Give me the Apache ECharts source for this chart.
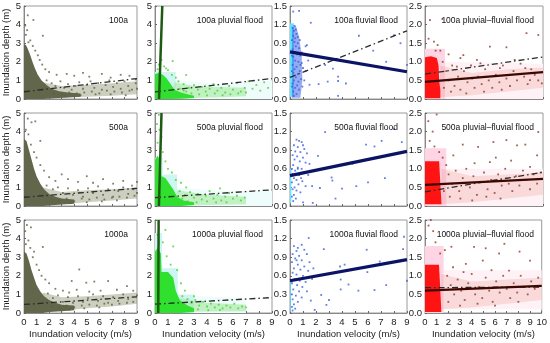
<!DOCTYPE html>
<html><head><meta charset="utf-8">
<script src="https://cdn.jsdelivr.net/npm/echarts@6/dist/echarts.min.js"></script>
<style>html,body{margin:0;padding:0;background:#fff}#c{width:550px;height:343px}</style>
</head><body><div id="c"></div>
<script>
// ---------- titles / ticks ----------
const rowLabels = ['100a', '500a', '1000a'];
const colSuffix = ['', ' pluvial flood', ' fluvial flood', ' pluvial\u2013fluvial flood'];
const xTicksA = [0,1,2,3,4,5,6,7,8,9];
const xTicksB = [0,1,2,3,4,5,6,7,8,9,10];
const yTicksDepth = [0,1,2,3,4,5];
const yTicksFluvial = [0,0.3,0.6,0.9,1.2,1.5];
const yTicksCombined = [0,0.5,1.0,1.5,2.0,2.5];

// ---------- row 1 ----------
const dense11 = [[0,0],[0,2.95],[0.15,2.9],[0.3,2.7],[0.5,2.35],[0.7,1.95],[0.9,1.6],[1.1,1.3],[1.4,1.0],[1.8,0.75],[2.2,0.55],[2.8,0.42],[3.5,0.35],[4.5,0.3],[4.5,0.12],[3.5,0.08],[2.5,0.04],[1.5,0]];
const band11 = [[1.2,0.05],[3,0.08],[5,0.12],[7,0.18],[9,0.25],[9,0.95],[7,0.85],[5,0.75],[3,0.7],[1.5,0.9]];
const pts11 = [[0.3,4.5],[0.75,4.25],[0.1,3.95],[0.25,3.7],[0.15,3.45],[1.5,3.4],[0.5,3.15],[0.35,3.05],[0.7,2.85],[0.9,2.6],[1.1,2.35],[1.25,2.1],[1.45,1.85],[1.7,1.6],[2.0,1.45],[2.6,1.3],[3.4,1.35],[4.0,1.25],[4.7,1.4],[5.2,1.2],[6.2,1.35],[6.9,1.15],[7.7,1.3],[8.4,1.25],[8.9,1.05],[1.8,1.0],[2.2,0.85],[2.5,0.7],[2.9,0.95],[3.2,0.6],[3.5,0.8],[3.8,0.5],[4.1,0.7],[4.4,0.9],[4.7,0.55],[5.0,0.75],[5.3,0.95],[5.6,0.6],[5.9,0.85],[6.2,0.5],[6.5,0.75],[6.8,1.0],[7.1,0.65],[7.4,0.85],[7.7,0.55],[8.0,0.95],[8.3,0.7],[8.6,0.5],[8.9,0.85],[2.4,0.3],[3.0,0.25],[3.6,0.35],[4.2,0.3],[4.8,0.35],[5.4,0.4],[6.0,0.3],[6.6,0.45],[7.2,0.4],[7.8,0.35],[8.4,0.45],[9.0,0.55],[3.3,0.15],[4.5,0.2],[5.7,0.25],[6.9,0.25],[8.1,0.2]];
const dash11 = [[0,0.39],[9,1.1]];

const halo12 = [[0,0],[0,1.45],[1.6,1.45],[1.6,0]];
const faint12 = [[1.6,0],[1.6,1.0],[5,0.8],[9,1.0],[9,0]];
const band12 = [[1.2,0.02],[3,0.05],[5,0.1],[7,0.15],[7,0.6],[5,0.65],[3,0.7],[1.5,0.9]];
const dense12 = [[0,0],[0,1.35],[0.3,1.4],[0.6,1.3],[0.9,1.1],[1.2,0.8],[1.5,0.5],[2,0.35],[2.5,0.25],[3,0.18],[3,0.05],[2,0.02],[1,0]];
const pts12 = [[0.5,2.1],[1.36,2.04],[0.3,1.85],[0.7,1.75],[0.85,1.65],[1.0,1.55],[0.2,1.6],[1.3,1.3],[2.4,1.29],[1.6,1.15],[1.8,0.95],[2.2,0.8],[2.6,0.6],[3.0,0.75],[3.3,0.5],[3.6,0.65],[3.9,0.4],[4.2,0.55],[4.5,0.8],[4.8,0.45],[5.1,0.6],[5.4,0.35],[5.7,0.7],[6.0,0.5],[6.3,0.85],[6.6,0.4],[6.9,0.6],[7.2,0.95],[7.5,0.55],[7.8,0.75],[8.1,0.45],[8.4,0.9],[8.7,0.6],[2.4,0.4],[2.8,0.3],[3.4,0.25],[4.0,0.2],[4.6,0.3],[5.2,0.2],[5.8,0.25],[6.4,0.3],[7.0,0.35],[1.9,0.55],[2.2,0.45]];
const line12 = [[0.31,0],[0.56,5]];
const dash12 = [[0,0.38],[9,1.1]];

const column13 = [[0,0.03],[0,1.22],[0.3,1.22],[0.3,0.03]];
const mass13 = [[0.15,0.02],[0.15,1.15],[0.45,1.18],[0.7,1.0],[0.9,0.7],[0.95,0.3],[0.8,0.02]];
const pts13 = [[0.2,1.15],[0.3,1.1],[0.25,1.02],[0.4,0.98],[0.5,1.05],[0.35,0.92],[0.6,0.9],[0.45,0.85],[0.2,0.8],[0.7,0.82],[0.3,0.75],[0.55,0.72],[0.8,0.7],[0.25,0.68],[0.4,0.62],[0.65,0.6],[0.9,0.58],[0.2,0.55],[0.5,0.52],[0.35,0.48],[0.75,0.45],[1.0,0.5],[0.25,0.42],[0.6,0.4],[0.45,0.35],[0.85,0.32],[0.3,0.3],[1.1,0.3],[0.2,0.25],[0.55,0.22],[0.4,0.18],[0.7,0.15],[0.25,0.12],[0.5,0.08],[0.3,0.05],[0.15,0.95],[0.15,0.7],[0.15,0.45],[0.15,0.2],[0.6,1.0],[0.75,0.95],[1.2,0.85],[0.9,0.75],[1.4,0.62],[1.2,0.45],[0.95,0.2],[0.65,0.28],[0.8,0.55],[0.35,1.18],[0.45,1.12],[0.25,1.41],[0.7,1.42],[1.6,1.23],[5.3,1.02],[7.0,1.25],[6.4,0.78],[7.4,0.6],[8.0,1.03],[3.7,0.36],[3.7,0.29],[2.9,0.28],[3.7,0.05],[3.3,0.49],[4.3,0.25],[2.7,0.55],[2.2,0.24],[1.3,0.87],[1.5,0.23],[9.0,0.55],[8.5,0.9]];
const line13 = [[0,0.76],[9,0.44]];
const dash13 = [[0,0.35],[9,1.1]];

const halo14 = [[0,0],[0,1.35],[1.7,1.35],[1.7,0]];
const faint14 = [[1.7,0],[1.7,1.0],[10,0.95],[10,0]];
const band14 = [[1.2,0.05],[4,0.1],[7,0.2],[10,0.3],[10,0.85],[7,0.8],[4,0.7],[1.3,0.9]];
const dense14 = [[0,0.02],[0,1.12],[0.5,1.15],[1.0,1.1],[1.15,0.9],[1.2,0.5],[1.3,0.25],[1.3,0.02]];
const pts14 = [[0.42,2.12],[1.47,2.15],[0.76,1.54],[1.07,1.45],[0.3,1.62],[0.9,1.3],[5.5,1.41],[6.9,1.39],[8.6,1.77],[9.6,1.72],[3.25,1.18],[4.7,0.96],[2.7,0.87],[6.35,0.83],[8.5,0.83],[9.9,0.42],[8.9,0.51],[1.5,1.0],[1.8,0.75],[2.0,0.5],[2.3,0.9],[2.5,0.35],[2.8,0.6],[3.0,0.25],[3.3,0.75],[3.6,0.45],[3.9,0.9],[4.2,0.3],[4.5,0.6],[4.8,0.4],[5.1,0.8],[5.4,0.5],[5.7,0.3],[6.0,0.65],[6.3,0.45],[6.6,0.9],[6.9,0.55],[7.2,0.35],[7.5,0.75],[7.8,0.5],[8.1,0.95],[8.4,0.6],[8.7,0.4],[9.0,0.8],[9.3,0.65],[9.6,0.5],[1.6,0.3],[2.2,0.2],[3.5,0.15],[4.0,0.55],[5.0,0.2],[6.5,0.25],[7.6,1.05],[4.4,1.05],[3.0,1.1],[2.0,1.2],[1.3,1.3]];
const line14 = [[0,0.46],[10,0.72]];
const dash14 = [[0,0.67],[10,1.13]];

// ---------- row 2 ----------
const dense21 = [[0,0],[0,3.6],[0.2,3.5],[0.4,3.0],[0.6,2.5],[0.8,2.0],[1.0,1.6],[1.3,1.2],[1.6,0.9],[2.0,0.65],[2.5,0.5],[3,0.4],[4,0.35],[4,0.12],[3,0.08],[2,0.03],[1.5,0]];
const band21 = [[1.2,0.05],[3,0.1],[5,0.2],[7,0.3],[9,0.4],[9,1.0],[7,0.9],[5,0.85],[3,0.75],[1.5,1.0]];
const pts21 = [[0.3,4.7],[0.6,4.5],[0.9,4.55],[0.15,4.1],[0.35,3.85],[1.3,3.5],[0.55,3.3],[0.8,2.9],[1.0,2.6],[1.3,2.2],[1.6,1.9],[2.0,1.55],[2.5,1.35],[3.0,1.7],[3.5,1.45],[4.3,1.3],[5.0,1.6],[5.5,1.25],[6.3,1.45],[7.1,1.2],[7.9,1.35],[8.6,1.1],[9.0,1.3],[1.8,1.1],[2.3,0.9],[2.7,1.0],[3.1,0.7],[3.5,0.95],[3.9,0.6],[4.3,0.85],[4.7,0.5],[5.1,0.95],[5.5,0.7],[5.9,1.05],[6.3,0.6],[6.7,0.9],[7.1,0.5],[7.5,0.8],[7.9,1.0],[8.3,0.65],[8.7,0.9],[9.0,0.7],[2.2,0.35],[2.8,0.3],[3.4,0.4],[4.0,0.25],[4.6,0.4],[5.2,0.35],[5.8,0.45],[6.4,0.35],[7.0,0.45],[7.6,0.5],[8.2,0.45],[8.8,0.55],[3.7,0.15],[5.0,0.2],[6.2,0.25],[7.4,0.3]];
const dash21 = [[0,0.47],[9,0.95]];

const halo22 = [[0,0],[0,2.6],[0.6,2.6],[0.6,1.7],[1.7,1.7],[1.7,0]];
const faint22 = [[1.7,0],[1.7,1.0],[5,0.8],[9,0.8],[9,0]];
const band22 = [[1.5,0.02],[4,0.05],[7,0.1],[7,0.5],[4,0.6],[1.7,0.85]];
const dense22 = [[0,0],[0,2.5],[0.2,2.7],[0.45,2.4],[0.5,1.6],[0.8,1.5],[1.1,1.2],[1.4,0.9],[1.7,0.5],[2.2,0.3],[3,0.2],[3,0.05],[2,0]];
const pts22 = [[0.3,4.9],[0.15,4.4],[0.35,4.1],[0.5,3.7],[0.2,3.4],[0.45,3.1],[0.6,2.9],[0.8,2.4],[1.0,2.0],[1.3,1.8],[1.6,1.4],[2.0,1.25],[2.4,1.0],[1.9,0.8],[2.3,0.6],[2.7,0.75],[3.0,0.45],[3.3,0.65],[3.6,0.35],[3.9,0.55],[4.2,0.8],[4.5,0.4],[4.8,0.6],[5.1,0.3],[5.4,0.5],[5.7,0.7],[6.0,0.4],[6.3,0.55],[6.6,0.3],[6.9,0.45],[2.5,0.25],[3.2,0.2],[4.0,0.25],[4.7,0.2],[5.5,0.2],[2.1,0.4],[5.0,0.95]];
const line22 = [[0.3,0],[0.5,5]];
const dash22 = [[0,0.45],[9,0.87]];

const column23 = [[0,0.05],[0,0.6],[0.1,0.6],[0.1,0.05]];
const pts23 = [[0.5,1.07],[0.7,1.05],[0.9,1.03],[0.3,0.98],[0.6,0.95],[1.1,0.92],[0.4,0.88],[0.8,0.87],[1.3,0.85],[0.2,0.82],[0.55,0.8],[1.0,0.78],[0.35,0.75],[0.75,0.72],[1.2,0.7],[1.5,0.68],[0.25,0.66],[0.6,0.62],[0.9,0.6],[0.4,0.57],[1.1,0.55],[0.2,0.52],[0.7,0.5],[1.4,0.5],[0.3,0.45],[0.5,0.42],[0.95,0.4],[0.15,0.38],[0.65,0.35],[0.35,0.3],[1.2,0.32],[0.2,0.27],[0.5,0.25],[0.8,0.22],[0.3,0.18],[0.15,0.15],[0.45,0.12],[0.25,0.08],[0.6,0.6],[1.0,0.98],[0.85,0.45],[0.15,0.6],[2.7,1.19],[5.85,0.99],[7.05,1.05],[6.5,0.96],[8.0,1.24],[7.3,0.45],[3.2,0.46],[3.26,0.41],[4.0,0.28],[1.7,0.32],[2.3,0.29],[5.1,0.32],[6.0,0.38],[1.0,0.06],[1.75,0.05],[2.15,0.81],[4.8,0.68],[8.6,1.03],[3.5,0.12]];
const line23 = [[0,0.49],[9,0.88]];

const halo24 = [[0,0],[0,1.55],[1.8,1.55],[1.8,0]];
const faint24 = [[1.8,0],[1.8,1.0],[10,1.0],[10,0]];
const band24 = [[1.3,0.05],[4,0.1],[7,0.2],[10,0.3],[10,0.9],[7,0.85],[4,0.8],[1.4,1.0]];
const dense24 = [[0,0.05],[0,1.2],[1.2,1.2],[1.3,0.6],[1.4,0.05]];
const pts24 = [[0.99,2.46],[0.28,2.28],[0.65,2.0],[9.6,1.99],[5.8,1.72],[6.9,1.77],[4.5,1.59],[3.2,1.65],[7.8,1.63],[8.5,1.65],[2.4,1.36],[5.5,1.18],[7.3,1.22],[8.9,1.05],[9.5,1.36],[0.4,1.75],[0.8,1.6],[1.2,1.45],[1.5,1.3],[1.8,1.1],[2.0,0.85],[2.3,0.6],[2.6,0.95],[2.9,0.4],[3.2,0.75],[3.5,1.0],[3.8,0.5],[4.1,0.8],[4.4,0.3],[4.7,0.65],[5.0,0.9],[5.3,0.45],[5.6,0.7],[5.9,0.35],[6.2,0.85],[6.5,0.55],[6.8,1.0],[7.1,0.6],[7.4,0.4],[7.7,0.8],[8.0,0.55],[8.3,0.95],[8.6,0.7],[8.9,0.45],[9.2,0.85],[9.5,0.6],[9.8,0.9],[1.6,0.4],[2.1,0.25],[3.0,0.2],[4.0,0.15],[5.2,0.25],[6.4,0.2],[4.2,1.15],[6.0,1.3]];
const line24 = [[0,0.57],[10,0.73]];
const dash24 = [[0,0.38],[10,0.91]];

// ---------- row 3 ----------
const dense31 = [[0,0],[0,3.3],[0.2,3.2],[0.4,2.8],[0.6,2.3],[0.8,1.9],[1.0,1.5],[1.3,1.15],[1.6,0.9],[2.0,0.7],[2.5,0.55],[3,0.45],[4,0.4],[4,0.15],[3,0.1],[2,0.05],[1.5,0]];
const band31 = [[1.2,0.1],[3,0.12],[5,0.25],[7,0.35],[9,0.5],[9,1.1],[7,1.0],[5,0.9],[3,0.85],[1.5,1.1]];
const pts31 = [[0.23,4.73],[0.55,4.6],[0.1,4.4],[0.35,3.9],[0.15,3.7],[0.5,3.5],[0.8,3.3],[1.5,3.55],[0.7,3.0],[1.0,2.6],[1.2,2.3],[1.4,2.0],[1.7,1.8],[2.0,1.6],[3.8,1.72],[4.4,2.34],[4.96,1.63],[5.6,1.69],[6.7,1.72],[8.2,1.45],[2.5,1.3],[3.1,1.2],[3.6,1.1],[4.2,1.25],[5.2,1.15],[6.1,1.2],[7.4,1.25],[8.7,1.2],[1.9,1.05],[2.3,0.8],[2.7,0.95],[3.1,0.6],[3.5,0.85],[3.9,0.55],[4.3,0.9],[4.7,0.6],[5.1,0.8],[5.5,1.0],[5.9,0.65],[6.3,0.9],[6.7,0.55],[7.1,0.85],[7.5,0.65],[7.9,1.0],[8.3,0.75],[8.7,0.6],[9.0,0.95],[2.2,0.35],[2.8,0.3],[3.4,0.4],[4.0,0.3],[4.6,0.4],[5.2,0.45],[5.8,0.4],[6.4,0.5],[7.0,0.45],[7.6,0.5],[8.2,0.55],[3.6,0.18],[4.8,0.25],[6.0,0.3]];
const dash31 = [[0,0.46],[9,0.87]];

const halo32 = [[0,0],[0,4.3],[0.55,4.3],[0.55,2.4],[1.75,2.4],[1.75,1.0],[3,1.0],[3,0]];
const faint32 = [[3,0],[3,0.9],[7,0.8],[7,0]];
const band32 = [[1.5,0.05],[4,0.08],[7,0.1],[7,0.45],[4,0.55],[1.8,0.8]];
const dense32 = [[0,0],[0,3.3],[0.2,3.5],[0.45,3.2],[0.5,2.2],[1.0,2.2],[1.4,1.9],[1.6,1.2],[1.9,0.7],[2.5,0.4],[3,0.25],[3,0.05],[2,0]];
const pts32 = [[0.8,4.47],[0.2,4.2],[1.4,3.58],[0.9,3.05],[0.6,3.8],[1.2,2.6],[1.7,2.3],[2.0,1.6],[2.3,1.2],[2.1,0.9],[2.5,0.75],[2.8,0.55],[3.1,0.7],[3.4,0.4],[3.7,0.6],[4.0,0.35],[4.3,0.5],[4.6,0.3],[4.9,0.45],[5.2,0.25],[5.5,0.4],[5.8,0.3],[6.1,0.5],[6.4,0.25],[6.7,0.35],[7.0,0.3],[2.6,0.25],[3.3,0.2],[4.1,0.15],[5.0,0.15],[2.2,0.45],[3.0,0.9]];
const line32 = [[0.25,0],[0.28,5]];
const dash32 = [[0,0.48],[9,0.83]];

const column33 = [[0,0.02],[0,0.5],[0.06,0.5],[0.06,0.02]];
const pts33 = [[0.3,1.08],[0.6,1.05],[0.9,1.1],[0.5,1.0],[1.1,1.02],[0.2,0.95],[0.7,0.92],[1.3,0.95],[0.4,0.88],[0.9,0.85],[1.5,0.82],[0.15,0.82],[0.6,0.78],[1.1,0.75],[0.3,0.72],[0.8,0.7],[1.4,0.68],[0.2,0.65],[0.5,0.62],[1.0,0.6],[0.35,0.55],[0.75,0.52],[1.2,0.5],[1.7,0.55],[0.15,0.48],[0.55,0.45],[0.95,0.42],[0.25,0.38],[0.7,0.35],[1.3,0.35],[0.15,0.3],[0.45,0.28],[0.9,0.25],[0.2,0.22],[0.6,0.18],[0.3,0.14],[0.15,0.1],[0.4,0.07],[0.2,0.04],[1.6,0.2],[1.8,0.72],[0.5,0.85],[1.44,1.21],[2.6,1.03],[5.9,1.02],[8.77,1.23],[8.7,1.03],[6.9,0.83],[5.95,0.66],[3.85,0.75],[4.2,0.78],[3.9,0.54],[4.5,0.46],[3.9,0.38],[5.26,0.36],[6.5,0.37],[7.4,0.45],[2.4,0.29],[2.8,0.13],[3.0,0.21],[1.9,0.05],[9.0,0.52]];
const line33 = [[0,0.52],[9,0.86]];

const halo34 = [[0,0],[0,1.8],[1.6,1.8],[1.6,0]];
const faint34 = [[1.6,0.1],[1.6,1.15],[10,1.15],[10,0.1]];
const band34 = [[1.3,0.1],[4,0.15],[7,0.25],[10,0.35],[10,0.95],[7,0.9],[4,0.85],[1.4,1.05]];
const dense34 = [[0,0.03],[0,1.3],[1.2,1.3],[1.3,0.7],[1.4,0.03]];
const pts34 = [[0.5,2.5],[0.7,2.2],[0.3,2.35],[1.7,1.69],[2.26,1.78],[5.2,1.74],[4.2,1.78],[6.8,1.86],[8.1,1.65],[6.35,1.6],[9.0,1.41],[3.5,1.32],[4.95,1.41],[2.4,1.23],[7.2,1.14],[0.9,1.9],[1.3,1.6],[1.9,1.0],[2.2,0.75],[2.5,0.5],[2.8,0.9],[3.1,0.6],[3.4,0.35],[3.7,0.8],[4.0,1.05],[4.3,0.5],[4.6,0.7],[4.9,0.4],[5.2,0.95],[5.5,0.6],[5.8,0.3],[6.1,0.85],[6.4,0.55],[6.7,1.0],[7.0,0.65],[7.3,0.4],[7.6,0.8],[7.9,0.55],[8.2,1.0],[8.5,0.7],[8.8,0.5],[9.1,0.85],[9.4,0.65],[9.7,0.95],[2.0,0.3],[3.0,0.2],[4.5,0.25],[6.0,0.2],[8.0,0.3],[5.7,1.15],[3.3,1.1]];
const line34 = [[0,0.6],[10,0.73]];
const dash34 = [[0,0.68],[10,0.7]];

// ---------- build ----------
const colLeft = [21, 155, 290, 425];
const colWidth = [116, 117, 117, 118];
const rowTop = [6, 113, 220];
const rowHeight = 93;

const FS = 9.5;
const FONT = 'Liberation Sans, Arial, sans-serif';

const colStyle = [
  {pt:'#5c6140', dense:'#62664a', band:'#8f9270', bandOp:0.45, ymax:5, yint:1, yTicks:yTicksDepth, xmax:9},
  {pt:'#45d030', dense:'#2fe02f', band:'#7ee070', bandOp:0.4, halo:'#cdf5f2', faint:'#eefcfb', ymax:5, yint:1, yTicks:yTicksDepth, xmax:9},
  {pt:'#3a5fe0', column:'#5fe3ff', mass:'#3f66e6', massOp:0.55, ymax:1.5, yint:0.3, yTicks:yTicksFluvial, xmax:9},
  {pt:'#8a3b22', dense:'#ff1414', band:'#e07a6a', bandOp:0.2, halo:'#ffd4e4', faint:'#fff2f6', ymax:2.5, yint:0.5, yTicks:yTicksCombined, xmax:10}
];

const panels = [
  [{dense:dense11, band:band11, pts:pts11, dash:dash11},
   {halo:halo12, faint:faint12, band:band12, dense:dense12, pts:pts12, line:line12, dash:dash12},
   {column:column13, mass:mass13, pts:pts13, dash:dash13, line:line13},
   {halo:halo14, faint:faint14, band:band14, dense:dense14, pts:pts14, line:line14, dash:dash14}],
  [{dense:dense21, band:band21, pts:pts21, dash:dash21},
   {halo:halo22, faint:faint22, band:band22, dense:dense22, pts:pts22, line:line22, dash:dash22},
   {column:column23, pts:pts23, line:line23},
   {halo:halo24, faint:faint24, band:band24, dense:dense24, pts:pts24, line:line24, dash:dash24}],
  [{dense:dense31, band:band31, pts:pts31, dash:dash31},
   {halo:halo32, faint:faint32, band:band32, dense:dense32, pts:pts32, line:line32, dash:dash32},
   {column:column33, pts:pts33, line:line33},
   {halo:halo34, faint:faint34, band:band34, dense:dense34, pts:pts34, line:line34, dash:dash34}]
];

const lineColor = ['#222', '#1d5a12', '#0b1464', '#3a0800'];
const lineWidth = [1.5, 2.5, 3.2, 2.2];

function poly(gi, pts, color, opacity, z) {
  return {
    type: 'custom', xAxisIndex: gi, yAxisIndex: gi, data: pts, clip: true, silent: true, z: z,
    renderItem: function (params, api) {
      if (params.dataIndex !== 0) return null;
      return {type: 'polygon', shape: {points: pts.map(p => api.coord(p))},
              style: {fill: color, opacity: opacity}};
    }
  };
}

const grids = [], xAxes = [], yAxes = [], series = [], titles = [];
for (let r = 0; r < 3; r++) {
  for (let c = 0; c < 4; c++) {
    const gi = r * 4 + c;
    const st = colStyle[c];
    const p = panels[r][c];
    grids.push({left: colLeft[c], top: rowTop[r], width: colWidth[c], height: rowHeight,
      show: true, borderColor: '#9a9a9a', borderWidth: 1, backgroundColor: 'transparent'});
    const xT = st.xmax === 10 ? xTicksB : xTicksA;
    xAxes.push({type: 'value', gridIndex: gi, min: xT[0], max: xT[xT.length - 1], interval: 1,
      axisLine: {show: true, onZero: false, lineStyle: {color: '#888'}},
      axisTick: {show: true, inside: true, length: 2, lineStyle: {color: '#666'}},
      splitLine: {show: false},
      axisLabel: {show: r === 2, fontSize: FS, color: '#222', fontFamily: FONT, margin: 4},
      name: r === 2 ? 'Inundation velocity (m/s)' : '', nameLocation: 'middle', nameGap: 16,
      nameTextStyle: {fontSize: FS, color: '#222', fontFamily: FONT}});
    yAxes.push({type: 'value', gridIndex: gi, min: st.yTicks[0], max: st.yTicks[st.yTicks.length - 1], interval: st.yint,
      axisLine: {show: true, onZero: false, lineStyle: {color: '#888'}},
      axisTick: {show: true, inside: true, length: 2, lineStyle: {color: '#666'}},
      splitLine: {show: false},
      axisLabel: {fontSize: FS, color: '#222', fontFamily: FONT, margin: 3,
        formatter: v => (st.yint < 1 ? v.toFixed(1) : String(v))},
      name: c === 0 ? 'Inundation depth (m)' : '', nameLocation: 'middle', nameGap: 13,
      nameTextStyle: {fontSize: FS, color: '#222', fontFamily: FONT}});
    titles.push({text: rowLabels[r] + colSuffix[c], right: 550 - colLeft[c] - colWidth[c] + 4, top: rowTop[r] + 5,
      textStyle: {fontSize: 8.5, fontWeight: 'normal', color: '#111', fontFamily: FONT}});

    if (p.faint) series.push(poly(gi, p.faint, st.faint, 1, 1));
    if (p.halo) series.push(poly(gi, p.halo, st.halo, 1, 1));
    if (p.band) series.push(poly(gi, p.band, st.band, st.bandOp, 2));
    if (p.dense) series.push(poly(gi, p.dense, st.dense, 1, 3));
    if (p.column) series.push(poly(gi, p.column, st.column, 1, 3));
    if (p.mass) series.push(poly(gi, p.mass, st.mass, st.massOp, 3));
    series.push({type: 'scatter', xAxisIndex: gi, yAxisIndex: gi, data: p.pts, symbol: 'rect', symbolSize: 1.8,
      itemStyle: {color: st.pt}, silent: true, z: 4});
    if (p.dash) series.push({type: 'line', xAxisIndex: gi, yAxisIndex: gi, data: p.dash, showSymbol: false, silent: true, z: 5,
      lineStyle: {color: '#2a2a2a', width: 1.3, type: [6, 3, 1.5, 3]}});
    if (p.line) series.push({type: 'line', xAxisIndex: gi, yAxisIndex: gi, data: p.line, showSymbol: false, silent: true, z: 6, clip: true,
      lineStyle: {color: lineColor[c], width: lineWidth[c]}});
  }
}

const chart = echarts.init(document.getElementById('c'), null, {renderer: 'canvas'});
chart.setOption({animation: false, backgroundColor: '#fff', title: titles, grid: grids, xAxis: xAxes, yAxis: yAxes, series: series});
</script></body></html>
